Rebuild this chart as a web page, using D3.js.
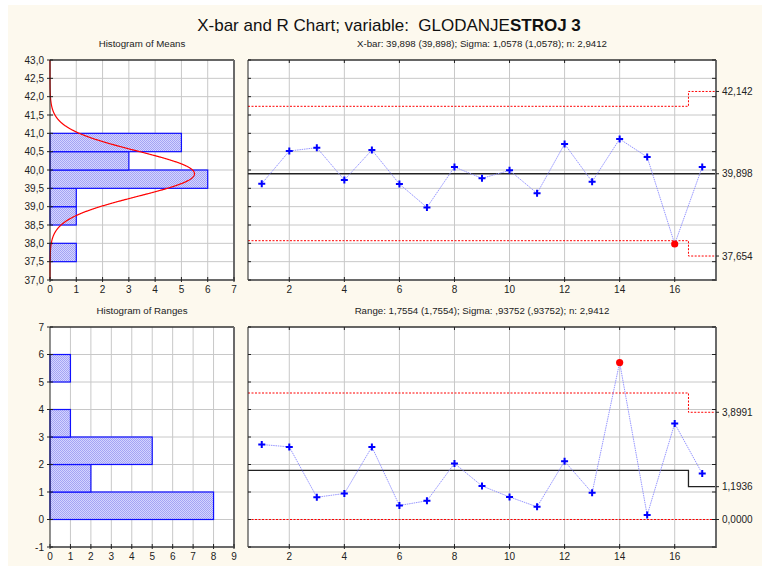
<!DOCTYPE html>
<html><head><meta charset="utf-8">
<script src="https://cdn.jsdelivr.net/npm/d3@7/dist/d3.min.js"></script>
<style>
html,body{margin:0;padding:0;background:#fff;}
svg{display:block;font-family:"Liberation Sans",Arial,sans-serif;}
text{white-space:pre;}
</style></head>
<body><svg id="c" width="762" height="572"></svg>
<script>
// ---------- data ----------
const samples = [1,2,3,4,5,6,7,8,9,10,11,12,13,14,15,16,17];
const xbarValues = [39.627,40.518,40.609,39.727,40.546,39.618,38.98,40.082,39.773,39.99,39.364,40.709,39.682,40.845,40.355,37.982,40.082];
const rangeValues = [2.727,2.64,0.81,0.945,2.64,0.51,0.68,2.04,1.22,0.82,0.46,2.12,0.97,5.71,0.16,3.49,1.67];
const xbarOut = [16];
const rangeOut = [14];
// control limits: [from, to, value]
const xbarUCL = [[0.5,16.5,41.737],[16.5,17.5,42.142]];
const xbarCL  = [[0.5,16.5,39.898],[16.5,17.5,39.898]];
const xbarLCL = [[0.5,16.5,38.072],[16.5,17.5,37.654]];
const rangeUCL = [[0.5,16.5,4.60],[16.5,17.5,3.8991]];
const rangeCL  = [[0.5,16.5,1.79],[16.5,17.5,1.1936]];
const rangeLCL = [[0.5,16.5,0],[16.5,17.5,0]];
const xbarRightLabels = [42.142,39.898,37.654];
const xbarRightText = ["42,142","39,898","37,654"];
const rangeRightLabels = [3.8991,1.1936,0];
const rangeRightText = ["3,8991","1,1936","0,0000"];
// histograms: bin lower edge, count
const meanBins = [37.0,37.5,38.0,38.5,39.0,39.5,40.0,40.5,41.0,41.5,42.0,42.5];
const meanCounts = [0,1,0,1,1,6,3,5,0,0,0,0];
const rangeBins = [-1,0,1,2,3,4,5,6];
const rangeCounts = [0,8,2,5,1,0,1,0];
const meanBinW = 0.5, rangeBinW = 1;
const normMean = 39.898, normSigma = 1.0578/Math.sqrt(2.9412), nSubgroups = 17;
const meanYTicks = [37,37.5,38,38.5,39,39.5,40,40.5,41,41.5,42,42.5,43];
const rangeYTicks = [-1,0,1,2,3,4,5,6,7];
const meanHistXTicks = [0,1,2,3,4,5,6,7];
const rangeHistXTicks = [0,1,2,3,4,5,6,7,8,9];
const sampleTicks = [2,4,6,8,10,12,14,16];
const titleMain = "X-bar and R Chart; variable:  GLODANJE";
const titleBold = "STROJ 3";
const subTL = "Histogram of Means";
const subTR = "X-bar: 39,898 (39,898); Sigma: 1,0578 (1,0578); n: 2,9412";
const subBL = "Histogram of Ranges";
const subBR = "Range: 1,7554 (1,7554); Sigma: ,93752 (,93752); n: 2,9412";

// ---------- drawing ----------
const svg = d3.select("#c");
const txt = "#222";
svg.append("rect").attr("x",8).attr("y",5).attr("width",754).attr("height",561).attr("fill","#fdf9ee");

const defs = svg.append("defs");
const pat = defs.append("pattern").attr("id","hatch").attr("patternUnits","userSpaceOnUse").attr("width",2).attr("height",2);
pat.append("rect").attr("width",2).attr("height",2).attr("fill","#d4d4ff");
pat.append("rect").attr("width",1).attr("height",1).attr("fill","#a4a4f4");
pat.append("rect").attr("x",1).attr("y",1).attr("width",1).attr("height",1).attr("fill","#a4a4f4");

const comma = f => v => f(v).replace(".",",");

const title = svg.append("text").attr("x",389).attr("y",31).attr("text-anchor","middle")
  .attr("font-size",17).attr("fill","#111").attr("xml:space","preserve");
title.append("tspan").text(titleMain);
title.append("tspan").attr("font-weight","bold").text(titleBold);

function sub(x,y,t){svg.append("text").attr("x",x).attr("y",y).attr("text-anchor","middle").attr("font-size",9.7).attr("fill",txt).text(t);}
sub(142,47,subTL); sub(482,47,subTR); sub(142,314,subBL); sub(482,314,subBR);

function frame(g,x0,x1,y0,y1){
  g.append("line").attr("x1",x0).attr("x2",x1).attr("y1",y0).attr("y2",y0).attr("stroke","#333").attr("stroke-width",1.5);
  g.append("line").attr("x1",x0).attr("x2",x0).attr("y1",y0).attr("y2",y1).attr("stroke","#222").attr("stroke-width",1);
  g.append("line").attr("x1",x1).attr("x2",x1).attr("y1",y0).attr("y2",y1+1).attr("stroke","#6a6a6a").attr("stroke-width",2);
  g.append("line").attr("x1",x0).attr("x2",x1+1).attr("y1",y1).attr("y2",y1).attr("stroke","#6a6a6a").attr("stroke-width",2);
}
function panelBg(x0,x1,y0,y1){
  svg.append("rect").attr("x",x0).attr("y",y0).attr("width",x1-x0).attr("height",y1-y0).attr("fill","#fff");
}

function histogram(x0,x1,y0,y1,xDom,yDom,xTicks,yTicks,bins,counts,binW,yFmt,curve){
  const x = d3.scaleLinear().domain(xDom).range([x0,x1]);
  const y = d3.scaleLinear().domain(yDom).range([y1,y0]);
  panelBg(x0,x1,y0,y1);
  const g = svg.append("g");
  g.selectAll(".vg").data(xTicks.filter(t=>t>xDom[0]&&t<xDom[1])).join("line")
    .attr("x1",d=>x(d)).attr("x2",d=>x(d)).attr("y1",y0).attr("y2",y1).attr("stroke","#c8c8c8");
  g.selectAll(".hg").data(yTicks.filter(t=>t>yDom[0]&&t<yDom[1])).join("line")
    .attr("x1",x0).attr("x2",x1).attr("y1",d=>y(d)).attr("y2",d=>y(d)).attr("stroke","#c8c8c8");
  g.selectAll(".bar").data(bins.map((b,i)=>({b,c:counts[i]}))).join("rect")
    .attr("x",x(0)).attr("y",d=>y(d.b+binW)).attr("width",d=>x(d.c)-x(0)).attr("height",d=>y(d.b)-y(d.b+binW))
    .attr("fill","url(#hatch)").attr("stroke","#1010ff").attr("stroke-width",1.2);
  if(curve){
    const pts = d3.range(yDom[0],yDom[1]+1e-9,0.01).map(v=>[curve(v),v]);
    g.append("path").attr("d",d3.line().x(d=>x(d[0])).y(d=>y(d[1]))(pts)).attr("fill","none").attr("stroke","#ff0000").attr("stroke-width",1.2);
  }
  frame(g,x0,x1,y0,y1);
  g.selectAll(".yt").data(yTicks).join("line").attr("x1",x0-3).attr("x2",x0+3).attr("y1",d=>y(d)).attr("y2",d=>y(d)).attr("stroke","#222");
  g.selectAll(".xt").data(xTicks).join("line").attr("x1",d=>x(d)).attr("x2",d=>x(d)).attr("y1",y1-3).attr("y2",y1+2).attr("stroke","#222");
  g.selectAll(".yl").data(yTicks).join("text").attr("x",x0-6).attr("y",d=>y(d)+3.5).attr("text-anchor","end")
    .attr("font-size",10).attr("fill",txt).text(yFmt);
  g.selectAll(".xl").data(xTicks).join("text").attr("x",d=>x(d)).attr("y",y1+13).attr("text-anchor","middle")
    .attr("font-size",10).attr("fill",txt).text(d=>d);
}

function control(x0,x1,y0,y1,yDom,yTicks,vals,outs,ucl,cl,lcl,rl,rt){
  const x = d3.scaleLinear().domain([0.5,17.5]).range([x0,x1]);
  const y = d3.scaleLinear().domain(yDom).range([y1,y0]);
  panelBg(x0,x1,y0,y1);
  const g = svg.append("g");
  g.selectAll(".vg").data(sampleTicks).join("line")
    .attr("x1",d=>x(d)).attr("x2",d=>x(d)).attr("y1",y0).attr("y2",y1).attr("stroke","#c8c8c8");
  g.selectAll(".hg").data(yTicks.filter(t=>t>yDom[0]&&t<yDom[1])).join("line")
    .attr("x1",x0).attr("x2",x1).attr("y1",d=>y(d)).attr("y2",d=>y(d)).attr("stroke","#c8c8c8");
  const step = segs => {
    const p = d3.path();
    segs.forEach((s,i)=>{ if(i===0) p.moveTo(x(s[0]),y(s[2])); else p.lineTo(x(s[0]),y(s[2])); p.lineTo(x(s[1]),y(s[2])); });
    return p.toString();
  };
  g.append("path").attr("d",step(ucl)).attr("fill","none").attr("stroke","#ff0000").attr("stroke-width",1).attr("stroke-dasharray","2,1.5");
  g.append("path").attr("d",step(lcl)).attr("fill","none").attr("stroke","#ff0000").attr("stroke-width",1).attr("stroke-dasharray","2,1.5");
  g.append("path").attr("d",step(cl)).attr("fill","none").attr("stroke","#222").attr("stroke-width",1.3);
  const data = samples.map((s,i)=>({s,v:vals[i]}));
  g.append("path").attr("d",d3.line().x(d=>x(d.s)).y(d=>y(d.v))(data)).attr("fill","none")
    .attr("stroke","#8a8aff").attr("stroke-width",0.9).attr("stroke-dasharray","1.5,0.8");
  const norm = data.filter(d=>!outs.includes(d.s));
  g.selectAll(".pt").data(norm).join("path")
    .attr("d",d=>`M${x(d.s)-3.5},${y(d.v)}H${x(d.s)+3.5}M${x(d.s)},${y(d.v)-3.5}V${y(d.v)+3.5}`)
    .attr("stroke","#0000ff").attr("stroke-width",2);
  g.selectAll(".out").data(data.filter(d=>outs.includes(d.s))).join("circle")
    .attr("cx",d=>x(d.s)).attr("cy",d=>y(d.v)).attr("r",3.6).attr("fill","#ff0000");
  frame(g,x0,x1,y0,y1);
  g.selectAll(".yt").data(yTicks).join("line").attr("x1",x0).attr("x2",x0+3).attr("y1",d=>y(d)).attr("y2",d=>y(d)).attr("stroke","#222");
  g.selectAll(".yt2").data(yTicks).join("line").attr("x1",x1-4).attr("x2",x1).attr("y1",d=>y(d)).attr("y2",d=>y(d)).attr("stroke","#222");
  g.selectAll(".xt").data(sampleTicks).join("line").attr("x1",d=>x(d)).attr("x2",d=>x(d)).attr("y1",y1-3).attr("y2",y1+2).attr("stroke","#222");
  g.selectAll(".xtt").data(sampleTicks).join("line").attr("x1",d=>x(d)).attr("x2",d=>x(d)).attr("y1",y0).attr("y2",y0+3).attr("stroke","#222");
  g.selectAll(".xl").data(sampleTicks).join("text").attr("x",d=>x(d)).attr("y",y1+13).attr("text-anchor","middle")
    .attr("font-size",10).attr("fill",txt).text(d=>d);
  g.selectAll(".rl").data(rl).join("text").attr("x",x1+6).attr("y",d=>y(d)+3.5)
    .attr("font-size",10).attr("fill",txt).text((d,i)=>rt[i]);
  g.selectAll(".rlt").data(rl).join("line").attr("x1",x1).attr("x2",x1+3).attr("y1",d=>y(d)).attr("y2",d=>y(d)).attr("stroke","#222");
}

const pdfCurve = v => nSubgroups*meanBinW*Math.exp(-0.5*Math.pow((v-normMean)/normSigma,2))/(normSigma*Math.sqrt(2*Math.PI));
histogram(50,234,60,280,[0,7],[37,43],meanHistXTicks,meanYTicks,meanBins,meanCounts,meanBinW,comma(d3.format(".1f")),pdfCurve);
histogram(50,234,327,547,[0,9],[-1,7],rangeHistXTicks,rangeYTicks,rangeBins,rangeCounts,rangeBinW,d=>d,null);
control(248,716,60,280,[37,43],meanYTicks,xbarValues,xbarOut,xbarUCL,xbarCL,xbarLCL,xbarRightLabels,xbarRightText);
control(248,716,327,547,[-1,7],rangeYTicks,rangeValues,rangeOut,rangeUCL,rangeCL,rangeLCL,rangeRightLabels,rangeRightText);
</script></body></html>
